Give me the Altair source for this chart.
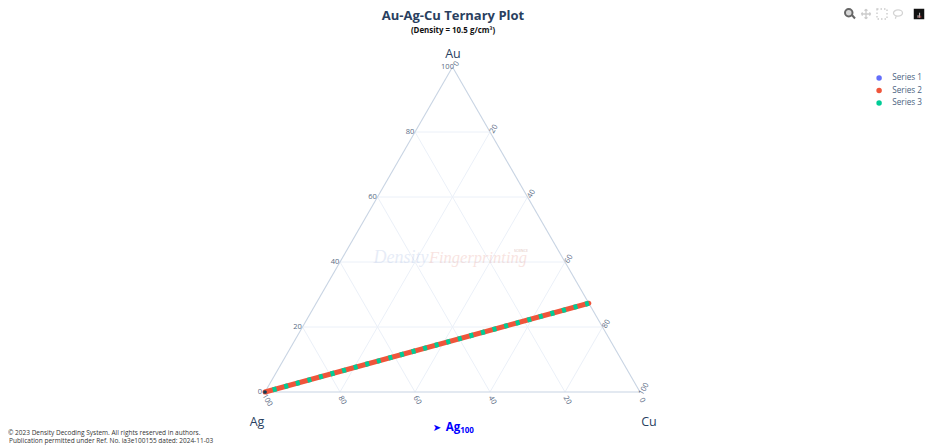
import altair as alt
import pandas as pd

# ---- data (ternary percentages) ----
TICKS = [0, 20, 40, 60, 80, 100]
GRID = [20, 40, 60, 80]
LINE_AU = [0.0, 27.3]
LINE_AG = [100.0, 0.0]
LINE_CU = [0.0, 72.7]
SERIES = ["Series 1", "Series 2", "Series 3"]
COLORS = ["#636efa", "#ef553b", "#00cc96"]

INK = "#2a3f5f"
TICK_INK = "#5a6b84"
EDGE = "#c8d4e3"
GRIDC = "#ebf0f8"
FONT = "Open Sans"


def tern(au, cu):
    return {"x": cu + au / 2, "y": au}


sx = alt.Scale(domain=[0, 100], range=[257, 632], nice=False, zero=False)
sy = alt.Scale(domain=[0, 100], range=[384, 59], nice=False, zero=False)
X = alt.X("x:Q", scale=sx, axis=None)
Y = alt.Y("y:Q", scale=sy, axis=None)
X2 = alt.X2("x2:Q")
Y2 = alt.Y2("y2:Q")


def seg(pairs):
    rows = []
    for p, q in pairs:
        a, b = tern(*p), tern(*q)
        rows.append({"x": a["x"], "y": a["y"], "x2": b["x"], "y2": b["y"]})
    return pd.DataFrame(rows)


grid_pairs = []
for t in GRID:
    grid_pairs.append(((t, 0), (t, 100 - t)))      # constant Au
    grid_pairs.append(((0, t), (100 - t, t)))      # constant Cu
    grid_pairs.append(((100 - t, 0), (0, 100 - t)))  # constant Ag
grid = alt.Chart(seg(grid_pairs)).mark_rule(color=GRIDC, strokeWidth=1).encode(x=X, y=Y, x2=X2, y2=Y2)

edges = alt.Chart(seg([((0, 0), (100, 0)), ((100, 0), (0, 100)), ((0, 0), (0, 100))])).mark_rule(
    color=EDGE, strokeWidth=1.1
).encode(x=X, y=Y, x2=X2, y2=Y2)


def tick_layer(fn, angle, dx, dy):
    df = pd.DataFrame([{**tern(*fn(t)), "label": str(t)} for t in TICKS])
    return alt.Chart(df).mark_text(
        font=FONT, fontSize=7.5, color=TICK_INK, angle=angle, dx=dx, dy=dy,
        align="center", baseline="middle",
    ).encode(x=X, y=Y, text="label:N")


ticks_au = tick_layer(lambda t: (t, 0), 0, -5, 0)
ticks_cu = tick_layer(lambda t: (100 - t, t), 300, 4.6, 2)
ticks_ag = tick_layer(lambda t: (0, 100 - t), 60, 8.2, 2.3)

rows = []
for s in SERIES:
    for au, cu in zip(LINE_AU, LINE_CU):
        rows.append({**tern(au, cu), "series": s})
lines = pd.DataFrame(rows)

legend_pts = alt.Chart(lines[lines["y"] == 0]).mark_point(filled=True, size=10, shape="circle", opacity=1).encode(
    x=X, y=Y,
    fill=alt.Fill("series:N", scale=alt.Scale(domain=SERIES, range=COLORS), title=None, legend=alt.Legend(
        orient="none", legendX=867, legendY=66, symbolType="circle", symbolSize=30, symbolOpacity=1,
        labelFont=FONT, labelFontSize=8.2, labelColor="#4a5f80", rowPadding=3.5, labelOffset=9,
        symbolStrokeWidth=0, title=None,
    )),
)


def series_line(name, color, width, **kw):
    return alt.Chart(lines[lines["series"] == name]).mark_line(
        color=color, strokeWidth=width, **kw
    ).encode(x=X, y=Y)


line1 = series_line("Series 1", COLORS[0], 3)
line2 = series_line("Series 2", COLORS[1], 5, strokeCap="round")
line3 = series_line("Series 3", COLORS[2], 5, strokeDash=[4, 8], strokeDashOffset=-8)

corner = alt.Chart(lines[(lines["series"] == "Series 1") & (lines["y"] == 0)]).mark_point(
    filled=True, size=14, color="#123b52", opacity=1
).encode(x=X, y=Y)


def note(text, x, y, **kw):
    base = dict(font=FONT, align="center", baseline="middle")
    base.update(kw)
    return alt.Chart(pd.DataFrame({"t": [text]})).mark_text(**base).encode(
        x=alt.value(x - 8), y=alt.value(y - 8), text="t:N"
    )


def icon(path, x, y, size, **kw):
    return alt.Chart(pd.DataFrame({"k": [0]})).mark_point(shape=path, size=size, opacity=1, **kw).encode(
        x=alt.value(x - 8), y=alt.value(y - 8)
    )


texts = [
    note("Au-Ag-Cu Ternary Plot", 453, 15.5, fontSize=13, fontWeight="bold", color=INK),
    note("(Density = 10.5 g/cm³)", 453, 31, fontSize=7.9, fontWeight="bold", color="#111111"),
    note("Au", 453, 54, fontSize=12.5, color=INK),
    note("Ag", 257, 422, fontSize=12.5, color=INK),
    note("Cu", 649, 422, fontSize=12.5, color=INK),
    note("➤", 437, 428, fontSize=10, fontWeight="bold", color="#0000ff", font="DejaVu Sans"),
    note("Ag", 453, 428, fontSize=11.5, fontWeight="bold", color="#0000ff"),
    note("100", 467, 431, fontSize=8, fontWeight="bold", color="#0000ff"),
    note("© 2023 Density Decoding System. All rights reserved in authors.", 8, 433, fontSize=6.5,
         color="#333333", align="left"),
    note("Publication permitted under Ref. No. ia3e100155 dated: 2024-11-03", 9, 441, fontSize=6.5,
         color="#333333", align="left"),
    note("Density", 401, 258, fontSize=18, font="Liberation Serif", fontStyle="italic", color="#6f8fd0", opacity=0.16),
    note("Fingerprinting", 478, 258, fontSize=16.5, font="Liberation Serif", fontStyle="italic", color="#e0786a", opacity=0.2),
    note("SCIENCE", 521, 251, fontSize=3.5, color="#c08070", opacity=0.5),
]

MAG = "M-0.25 -1A0.75 0.75 0 1 0 -0.25 0.5A0.75 0.75 0 1 0 -0.25 -1ZM0.3 0.1L1 0.9"
PAN = "M-1 0L1 0M0 -1L0 1M-1 0L-0.7 -0.3M-1 0L-0.7 0.3M1 0L0.7 -0.3M1 0L0.7 0.3M0 -1L-0.3 -0.7M0 -1L0.3 -0.7M0 1L-0.3 0.7M0 1L0.3 0.7"
LASSO = "M-0.95 -0.2A0.95 0.65 0 1 1 0.95 -0.2A0.95 0.65 0 1 1 -0.95 -0.2ZM-0.4 0.4L-0.55 1"
BAR_W = "M-0.5 1L-0.5 0.1L-0.2 0.1L-0.2 1ZM0.1 1L0.1 -0.8L0.4 -0.8L0.4 1Z"
BAR_R = "M-0.1 1L-0.1 0.3L0.1 0.3L0.1 1ZM0.55 1L0.55 0.3L0.8 0.3L0.8 1Z"

ICON_Y = 14
icons = [
    icon(MAG, 850, ICON_Y, 100, stroke="#666666", strokeWidth=2, fill="#d8d8d8"),
    icon(PAN, 866, ICON_Y, 90, stroke="#cccccc", strokeWidth=1.3, fill=None),
    icon("square", 882, ICON_Y, 100, stroke="#cccccc", strokeWidth=1.4, strokeDash=[1.5, 2], fill=None),
    icon(LASSO, 898, ICON_Y, 90, stroke="#d4d4d4", strokeWidth=1.3, fill=None),
    icon("square", 919, ICON_Y, 110, fill="#111111", stroke="#111111", strokeWidth=0),
    icon(BAR_W, 919, ICON_Y + 1, 30, fill="#eeeeee", strokeWidth=0),
    icon(BAR_R, 919, ICON_Y + 1, 30, fill="#dd4444", strokeWidth=0),
]

chart = alt.layer(
    grid, edges, *texts[10:13], ticks_au, ticks_cu, ticks_ag,
    legend_pts, line1, line2, line3, corner, *texts[:10], *icons,
).properties(
    width=920, height=437, padding=0, autosize=alt.AutoSizeParams(type="none"),
).configure_view(stroke=None).resolve_scale(x="shared", y="shared")

chart.save("out.html", embed_options={"renderer": "svg", "actions": False})
